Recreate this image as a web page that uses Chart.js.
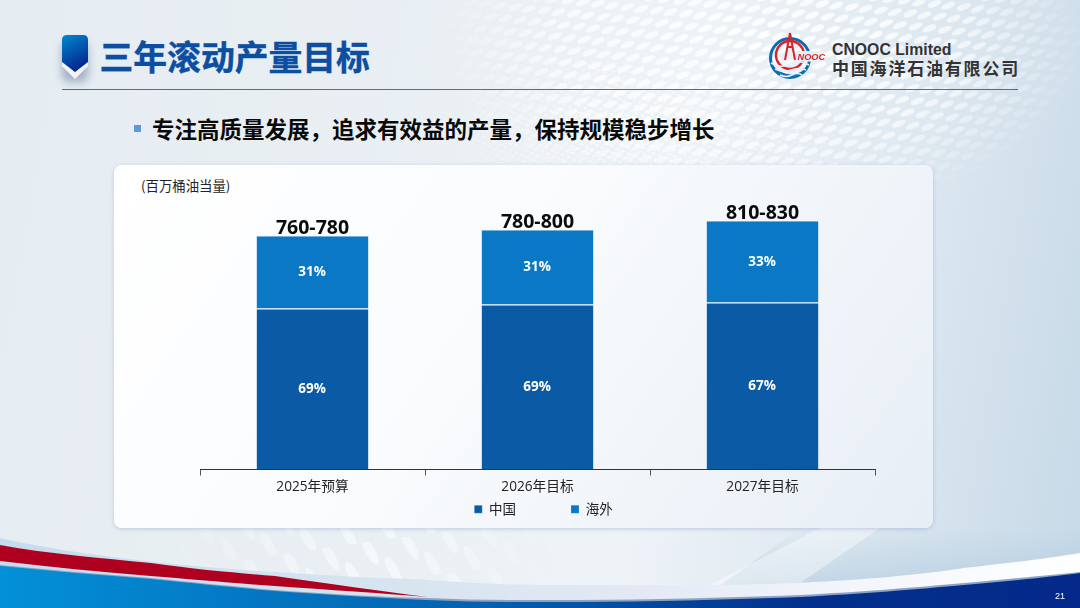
<!DOCTYPE html>
<html lang="zh">
<head>
<meta charset="utf-8">
<script src="https://cdn.jsdelivr.net/npm/chart.js@4"></script>
<style>
html,body{margin:0;padding:0;background:#eef3f7}
#slide{position:relative;width:1080px;height:608px;overflow:hidden;font-family:"Noto Sans CJK SC","Noto Sans",sans-serif;
background:linear-gradient(100deg,#e6edf2 0%,#e9eff3 38%,#eef3f7 60%,#dfe9f1 78%,#c6d9e7 100%)}
#bg,#front{position:absolute;left:0;top:0}
#title{position:absolute;left:99.5px;top:33px;font-size:33.8px;line-height:46px;font-weight:700;color:#0b4ea2;white-space:nowrap;-webkit-text-stroke:.4px #0b4ea2}
#rule{position:absolute;left:62px;top:89px;width:956px;height:1px;background:#5c6c88}
#bullet{position:absolute;left:134px;top:125px;width:7px;height:7px;background:#5b9bd5}
#sub{position:absolute;left:152px;top:112px;font-size:22.5px;line-height:32px;font-weight:700;color:#0a0a0a;white-space:nowrap}
#card{position:absolute;left:114px;top:165px;width:819px;height:363px;border-radius:8px;
background:linear-gradient(125deg,#ffffff 0%,#f9fbfd 45%,#e7eef6 100%);box-shadow:0 1px 4px rgba(120,140,190,.4)}
#unit{position:absolute;left:141px;top:175px;font-size:13.4px;line-height:20px;color:#222;white-space:nowrap}
#en{position:absolute;left:832px;top:40px;font-family:"Liberation Sans",sans-serif;font-size:15.8px;line-height:20px;font-weight:700;color:#333;white-space:nowrap}
#cn{position:absolute;left:832px;top:56px;font-size:17px;line-height:24px;font-weight:700;letter-spacing:1.8px;color:#333;white-space:nowrap}
#page{position:absolute;left:1055px;top:590px;font-family:"Liberation Sans",sans-serif;font-size:9px;line-height:12px;color:#fff}
canvas{position:absolute;left:0;top:0}
</style>
</head>
<body>
<div id="slide">
<svg id="bg" width="1080" height="608" xmlns="http://www.w3.org/2000/svg">
 <defs>
  <pattern id="dots" width="26" height="14" patternUnits="userSpaceOnUse" patternTransform="rotate(-22)">
   <ellipse cx="6.5" cy="3.5" rx="8" ry="3" fill="#fff"/>
   <ellipse cx="19.5" cy="10.5" rx="8" ry="3" fill="#fff"/>
  </pattern>
  <pattern id="dotsFine" width="10" height="7" patternUnits="userSpaceOnUse" patternTransform="rotate(-10)">
   <ellipse cx="2.5" cy="1.75" rx="2.2" ry="1.2" fill="#fff"/>
   <ellipse cx="7.5" cy="5.25" rx="2.2" ry="1.2" fill="#fff"/>
  </pattern>
  <pattern id="dots2" width="40" height="42" patternUnits="userSpaceOnUse" patternTransform="rotate(-8)">
   <ellipse cx="10" cy="10" rx="5" ry="15" fill="#fff" transform="rotate(-22 10 10)"/>
   <ellipse cx="30" cy="31" rx="5" ry="15" fill="#fff" transform="rotate(-22 30 31)"/>
  </pattern>
  <radialGradient id="fade" gradientUnits="userSpaceOnUse" cx="760" cy="40" r="330" gradientTransform="translate(0 18) scale(1 .55)">
   <stop offset="0" stop-color="#fff" stop-opacity=".95"/>
   <stop offset=".6" stop-color="#fff" stop-opacity=".65"/>
   <stop offset="1" stop-color="#fff" stop-opacity="0"/>
  </radialGradient>
  <radialGradient id="fadeFine" gradientUnits="userSpaceOnUse" cx="640" cy="130" r="240" gradientTransform="translate(0 78) scale(1 .4)">
   <stop offset="0" stop-color="#fff" stop-opacity=".8"/>
   <stop offset="1" stop-color="#fff" stop-opacity="0"/>
  </radialGradient>
  <radialGradient id="fade2" gradientUnits="userSpaceOnUse" cx="370" cy="570" r="210">
   <stop offset="0" stop-color="#fff" stop-opacity=".6"/>
   <stop offset="1" stop-color="#fff" stop-opacity="0"/>
  </radialGradient>
  <mask id="m1"><rect width="1080" height="608" fill="url(#fade)"/></mask>
  <mask id="mf"><rect width="1080" height="608" fill="url(#fadeFine)"/></mask>
  <mask id="m2"><rect width="1080" height="608" fill="url(#fade2)"/></mask>
  <linearGradient id="blue" x1="0" x2="1" y1="0" y2="0">
   <stop offset="0" stop-color="#0390d8"/><stop offset=".45" stop-color="#0560ae"/><stop offset=".75" stop-color="#03308c"/><stop offset="1" stop-color="#04298a"/>
  </linearGradient>
  <linearGradient id="light" x1="0" x2="1" y1="0" y2="0">
   <stop offset="0" stop-color="#c4dcee"/><stop offset=".35" stop-color="#d6e4f0"/><stop offset=".6" stop-color="#e4e9f4"/><stop offset=".8" stop-color="#f4f6fc"/><stop offset="1" stop-color="#ffffff"/>
  </linearGradient>
  <linearGradient id="icon" x1="0" x2=".4" y1="0" y2="1">
   <stop offset="0" stop-color="#0089d0"/><stop offset="1" stop-color="#03288e"/>
  </linearGradient>
  <linearGradient id="cornerShade" x1="0" x2="0" y1="0" y2="1">
   <stop offset="0" stop-color="#aac6dc" stop-opacity="0"/><stop offset="1" stop-color="#aac6dc" stop-opacity=".7"/>
  </linearGradient>
  <filter id="blur" x="-60%" y="-60%" width="220%" height="220%"><feGaussianBlur stdDeviation="5"/></filter>
 </defs>
 <rect width="1080" height="608" fill="url(#dots)" mask="url(#m1)"/>
 <rect width="1080" height="608" fill="url(#dotsFine)" mask="url(#mf)"/>
 <rect x="0" y="520" width="800" height="88" fill="url(#dots2)" mask="url(#m2)"/>
 <polygon points="800,528 1080,528 1080,600 700,600" fill="url(#cornerShade)"/>
 <polygon points="700,590 820,528 880,528 790,590" fill="#fff" opacity=".4"/>
 <rect x="62" y="42" width="26" height="40" rx="6" fill="#5a6f95" opacity=".5" filter="url(#blur)"/>
</svg>
<div id="rule"></div>
<div id="title">三年滚动产量目标</div>
<div id="bullet"></div>
<div id="sub">专注高质量发展，追求有效益的产量，保持规模稳步增长</div>
<div id="card"></div>
<div id="unit">(百万桶油当量)</div>
<div id="en">CNOOC Limited</div>
<div id="cn">中国海洋石油有限公司</div>
<canvas id="c" width="1080" height="608"></canvas>
<svg id="front" width="1080" height="608" xmlns="http://www.w3.org/2000/svg" style="pointer-events:none">
 <path d="M62 60 L75 72 L88 60 L88 66 L75 79 L62 66Z" fill="#f2f3fc"/>
 <path d="M62 40 Q62 35 67 35 L83 35 Q88 35 88 40 L88 62 L75 72 L62 62Z" fill="url(#icon)"/>
 <!-- logo -->
 <g fill="none">
  <circle cx="790" cy="58" r="19.5" stroke="#0a6cb4" stroke-width="3"/>
  <path d="M771 60 A19.5 19.5 0 0 0 809 62 L809 66 Q790 84 771 64Z" fill="#0a6cb4"/>
  <circle cx="790" cy="55" r="14" stroke="#d8232a" stroke-width="2.4"/>
  <path d="M790 33 L785 60 M790 33 L795 60 M787 47 L793 47" stroke="#d8232a" stroke-width="2"/>
  <path d="M771 63 Q781 69 790 64 T809 65 M775 69 Q783 73 791 70 T806 70 M780 75 Q786 78 792 75 T802 75" stroke="#e8f0f6" stroke-width="1.6"/>
 </g>
 <rect x="797" y="51" width="25.5" height="10.5" fill="#eaf1f6"/>
 <text x="797.5" y="60" font-family="Liberation Sans" font-size="9.2" font-weight="700" font-style="italic" fill="#d8232a">NOOC</text>
 <!-- bottom swoosh -->
 <path d="M0 538 C60 552 170 566 275 572 C320 575 370 578 413 579 C470 583 510 585 551 585 L700 585 C800 585 900 578 964 568 C1010 563 1050 558 1080 553 L1080 608 L0 608Z" fill="url(#light)"/>
 <path d="M0 545 C50 554 100 558 151 563 C200 570 240 573 275 576 C330 584 380 591 427 597 C380 593 330 590 275 586 C230 583 190 579 151 576 C100 572 50 567 0 561Z" fill="#b00020"/>
 <path d="M0 565 C50 570 100 574 151 578 C200 583 240 587 275 590 C330 594 380 597 427 598 C470 600 510 600 551 600 C640 600 720 598 800 595 C860 592 920 587 964 583 C1010 579 1050 575 1080 572 L1080 608 L0 608Z" fill="#8ea3c4"/>
 <path d="M0 566 C50 571 100 575 151 579 C200 584 240 588 275 591 C330 595 380 598 427 600 C470 602 510 602 551 602 C640 602 720 600 800 597 C860 594 920 589 964 585 C1010 581 1050 577 1080 573 L1080 608 L0 608Z" fill="url(#blue)"/>
</svg>
<div id="page">21</div>
</div>
<script>
const categories = ["2025年预算", "2026年目标", "2027年目标"];
const seriesNames = ["中国", "海外"];
const chinaValues = [532, 545, 552];
const overseasValues = [238, 245, 268];
const rangeLabels = ["760-780", "780-800", "810-830"];
const chinaShare = ["69%", "69%", "67%"];
const overseasShare = ["31%", "31%", "33%"];
const chinaColor = "#0b5aa5";
const overseasColor = "#0b78c6";

const barLabels = {
  id: "barLabels",
  afterDatasetsDraw(chart) {
    const ctx = chart.ctx;
    ctx.save();
    ctx.textAlign = "center";
    ctx.textBaseline = "middle";
    const lists = [chinaShare, overseasShare];
    lists.forEach((list, d) => {
      chart.getDatasetMeta(d).data.forEach((bar, i) => {
        ctx.font = '700 13.5px "Open Sans","Noto Sans CJK SC"';
        ctx.fillStyle = "#fff";
        ctx.fillText(list[i], bar.x - 0.5, (bar.y + bar.base) / 2);
        if (d === 1) {
          ctx.font = '700 19.5px "Open Sans","Noto Sans CJK SC"';
          ctx.fillStyle = "#0a0a0a";
          ctx.fillText(rangeLabels[i], bar.x, bar.y - 8);
        }
      });
    });
    ctx.restore();
  }
};
const legendShift = {
  id: "legendShift",
  afterLayout(chart) {
    chart.legend.left += 6;
    chart.legend.right += 6;
    chart.legend.top -= 50.5;
    chart.legend.bottom -= 50.5;
  }
};

new Chart(document.getElementById("c"), {
  type: "bar",
  data: {
    labels: categories,
    datasets: [
      { label: seriesNames[0], data: chinaValues, backgroundColor: chinaColor, borderColor: "rgba(255,255,255,.55)", borderWidth: {top:1,left:0.5,right:0.5,bottom:0}, barPercentage: 1, categoryPercentage: 0.5 },
      { label: seriesNames[1], data: overseasValues, backgroundColor: overseasColor, borderColor: "rgba(255,255,255,.55)", borderWidth: {top:0,left:0.5,right:0.5,bottom:0}, barPercentage: 1, categoryPercentage: 0.5 }
    ]
  },
  options: {
    responsive: false,
    animation: false,
    devicePixelRatio: 1,
    layout: { padding: { left: 200, right: 205, top: 197, bottom: 31.5 } },
    plugins: {
      tooltip: { enabled: false },
      legend: {
        position: "bottom",
        labels: { boxWidth: 8, boxHeight: 8, padding: 55, color: "#222", font: { size: 13.5, family: '"Noto Sans CJK SC"' } }
      }
    },
    scales: {
      x: {
        stacked: true,
        border: { color: "#333", width: 1 },
        grid: { offset: true, drawOnChartArea: false, tickLength: 6, tickColor: "#555" },
        ticks: { color: "#222", padding: 3, maxRotation: 0, font: { size: 13.7, family: '"Open Sans","Noto Sans CJK SC"' } }
      },
      y: { stacked: true, display: false, min: 0, max: 900 }
    }
  },
  plugins: [barLabels, legendShift]
});
</script>
</body>
</html>
